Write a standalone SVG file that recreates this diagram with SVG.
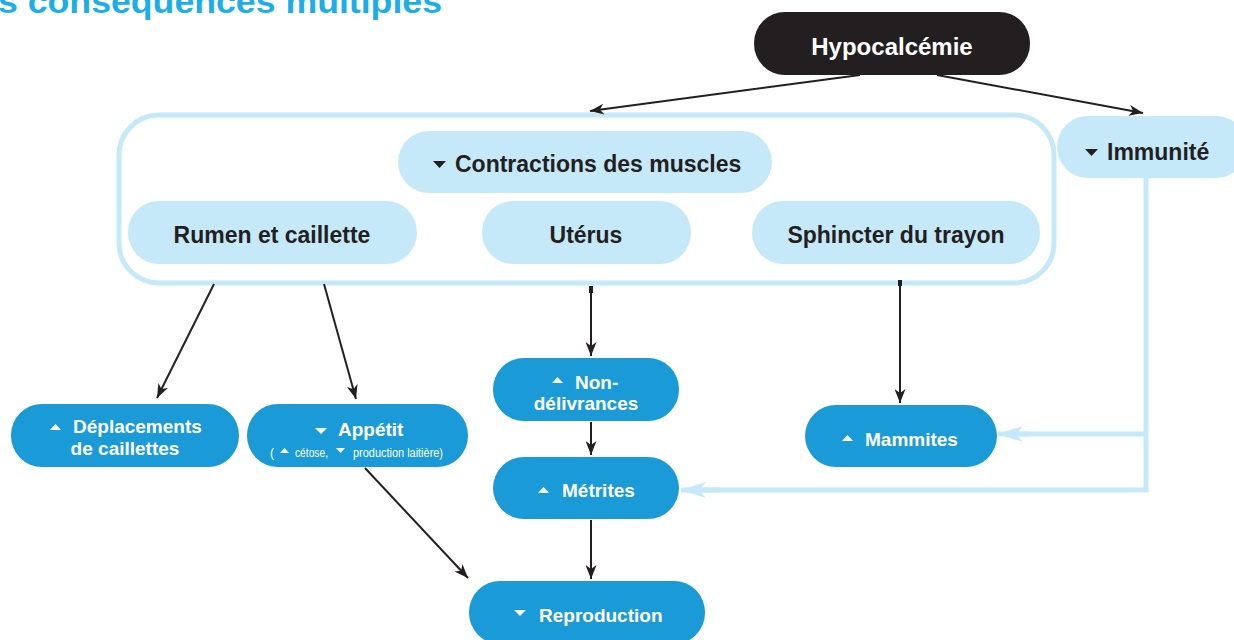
<svg xmlns="http://www.w3.org/2000/svg" width="1234" height="640" viewBox="0 0 1234 640">
<defs>
<style>
.title{font-family:"Liberation Sans",Arial,sans-serif;font-weight:bold;fill:#1caee8}
.lp{fill:#c6e9f9}
.dp{fill:#1a9bd7}
.bp{fill:#231f20}
.tb{font-family:"Liberation Sans",Arial,sans-serif;font-weight:bold;font-size:23px;fill:#231f20}
.tw{font-family:"Liberation Sans",Arial,sans-serif;font-weight:bold;font-size:19px;fill:#ffffff}
.ts{font-family:"Liberation Sans",Arial,sans-serif;font-size:12px;fill:#ffffff}
.blk{stroke:#231f20;stroke-width:2;fill:none;marker-end:url(#ah)}
.lb{stroke:#c6e9f9;stroke-width:5;fill:none}
.triw{fill:#ffffff}
.trib{fill:#231f20}
</style>
<marker id="ah" viewBox="0 0 14 11" refX="14" refY="5.5" markerWidth="14" markerHeight="11" markerUnits="userSpaceOnUse" orient="auto">
<path d="M0,0 L14,5.5 L0,11 L4,5.5 z" fill="#231f20"/>
</marker>
<marker id="al" viewBox="0 0 26 16" refX="25" refY="8" markerWidth="26" markerHeight="16" markerUnits="userSpaceOnUse" orient="auto">
<path d="M0,0 L26,8 L0,16 L7,8 z" fill="#c6e9f9"/>
</marker>
</defs>
<rect width="1234" height="640" fill="#ffffff"/>
<text class="title" x="-2" y="13" font-size="34" textLength="444" lengthAdjust="spacingAndGlyphs">s conséquences multiples</text>

<g id="container">
<rect x="119" y="115" width="935" height="168" rx="40" fill="none" stroke="#c6e9f9" stroke-width="5"/>
</g>

<g id="connectors">
<line class="blk" x1="860" y1="75" x2="590" y2="111"/>
<line class="blk" x1="937" y1="75" x2="1143" y2="113"/>
<line class="blk" x1="214" y1="284" x2="157" y2="398"/>
<line class="blk" x1="324" y1="284" x2="356" y2="399"/>
<line x1="591" y1="286" x2="591" y2="293" stroke="#231f20" stroke-width="4"/>
<line class="blk" x1="591" y1="286" x2="591" y2="356"/>
<line class="blk" x1="591" y1="422" x2="591" y2="455"/>
<line class="blk" x1="591" y1="520" x2="591" y2="579"/>
<line class="blk" x1="365" y1="468" x2="468" y2="578"/>
<line x1="900" y1="280" x2="900" y2="286" stroke="#231f20" stroke-width="4"/>
<line class="blk" x1="900" y1="280" x2="900" y2="403"/>
<polyline class="lb" points="1146,178 1146,490 700,490"/>
<line class="lb" x1="1146" y1="434" x2="1016" y2="434"/>
<line class="lb" x1="720" y1="490" x2="681" y2="490" marker-end="url(#al)"/>
<line class="lb" x1="1030" y1="434" x2="998" y2="434" marker-end="url(#al)"/>
</g>

<g id="hypocalcemie">
<rect class="bp" x="754" y="12" width="276" height="63" rx="31"/>
<text x="892" y="55" text-anchor="middle" class="tw" font-size="24" style="font-size:24px">Hypocalcémie</text>
</g>

<g id="contractions">
<rect class="lp" x="398" y="131" width="374" height="62" rx="31"/>
<polygon class="trib" points="433,161 446,161 439.5,168"/>
<text class="tb" x="455" y="172">Contractions des muscles</text>
</g>

<g id="rumen">
<rect class="lp" x="128" y="201" width="289" height="63" rx="31"/>
<text class="tb" x="272" y="243" text-anchor="middle">Rumen et caillette</text>
</g>

<g id="uterus">
<rect class="lp" x="482" y="201" width="209" height="63" rx="31"/>
<text class="tb" x="586" y="243" text-anchor="middle">Utérus</text>
</g>

<g id="sphincter">
<rect class="lp" x="752" y="201" width="288" height="63" rx="31"/>
<text class="tb" x="896" y="243" text-anchor="middle">Sphincter du trayon</text>
</g>

<g id="immunite">
<rect class="lp" x="1057" y="116" width="190" height="62" rx="31"/>
<polygon class="trib" points="1085,149 1098,149 1091.5,156"/>
<text class="tb" x="1107" y="160">Immunité</text>
</g>

<g id="deplacements">
<rect class="dp" x="11" y="404" width="228" height="63" rx="31"/>
<polygon class="triw" points="50,430 61,430 55.5,424"/>
<text class="tw" x="73" y="433">Déplacements</text>
<text class="tw" x="125" y="455" text-anchor="middle">de caillettes</text>
</g>

<g id="appetit">
<rect class="dp" x="247" y="404" width="221" height="63" rx="31"/>
<polygon class="triw" points="315,428 327,428 321,434"/>
<text class="tw" x="338" y="436">Appétit</text>
<text class="ts" x="270" y="457">(</text>
<polygon class="triw" points="280,453 289,453 284.5,448"/>
<text class="ts" x="295" y="457" textLength="33" lengthAdjust="spacingAndGlyphs">cétose,</text>
<polygon class="triw" points="336,448 345,448 340.5,453"/>
<text class="ts" x="353" y="457" textLength="90" lengthAdjust="spacingAndGlyphs">production laitière)</text>
</g>

<g id="nondelivrances">
<rect class="dp" x="493" y="358" width="186" height="63" rx="31"/>
<polygon class="triw" points="552,383 563,383 557.5,377"/>
<text class="tw" x="575" y="389">Non-</text>
<text class="tw" x="586" y="410" text-anchor="middle">délivrances</text>
</g>

<g id="metrites">
<rect class="dp" x="493" y="457" width="186" height="62" rx="31"/>
<polygon class="triw" points="538,493 549,493 543.5,487"/>
<text class="tw" x="562" y="497">Métrites</text>
</g>

<g id="mammites">
<rect class="dp" x="805" y="405" width="192" height="62" rx="31"/>
<polygon class="triw" points="842,441 853,441 847.5,435"/>
<text class="tw" x="865" y="446">Mammites</text>
</g>

<g id="reproduction">
<rect class="dp" x="469" y="581" width="236" height="63" rx="31"/>
<polygon class="triw" points="514,610 526,610 520,616"/>
<text class="tw" x="539" y="622">Reproduction</text>
</g>
</svg>
